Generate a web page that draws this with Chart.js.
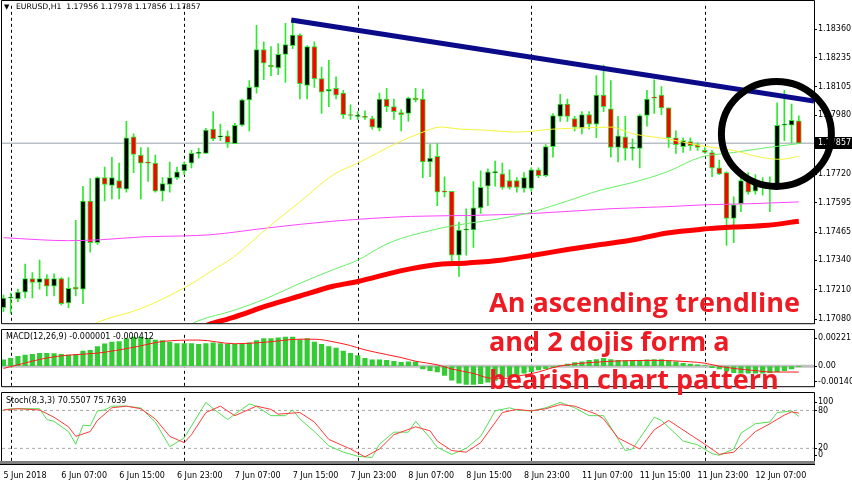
<!DOCTYPE html>
<html lang="en">
<head>
<meta charset="UTF-8">
<meta name="viewport" content="width=device-width, initial-scale=1.0">
<title>EURUSD H1</title>
<script src="https://cdn.jsdelivr.net/npm/chart.js"></script>
<style>
    body { margin: 0; width: 852px; height: 485px; position: relative; overflow: hidden; background: #fff; }
    canvas { position: absolute; left: 0; }
    #main { top: 0; }
    #macd { top: 329px; }
    #stoch { top: 392px; }
    .tag { position: absolute; left: 6px; font: 8px "DejaVu Sans", sans-serif; line-height: 10px; color: #000; white-space: pre; }
    #note { position: absolute; left: 489px; top: 283px; font: bold 27px/38.5px "Open Sans", sans-serif; color: #ed1c24; white-space: nowrap; }
</style>
</head>
<body>
<canvas id="main" width="852" height="329"></canvas>
<canvas id="macd" width="852" height="63"></canvas>
<canvas id="stoch" width="852" height="93"></canvas>
<div class="tag" style="top:2px;left:4px;font-size:7px">▼</div>
<div class="tag" style="top:2px;left:16px;font-size:7.7px">EURUSD,H1  1.17956 1.17978 1.17856 1.17857</div>
<div class="tag" style="top:332px">MACD(12,26,9) -0.000001 -0.000412</div>
<div class="tag" style="top:396px">Stoch(8,3,3) 70.5507 75.7639</div>
<div id="note">An ascending trendline<br>and 2 dojis form a<br>bearish chart pattern</div>
<script>
// hourly bars, 5 Jun 23:00 .. 12 Jun 13:00 (index 0..110)
const opens = [
    1.17132,1.17174,1.17170,1.17200,1.17260,1.17243,1.17260,1.17226,1.17260,1.17153,
    1.17222,1.17213,1.17602,1.17418,1.17705,1.17671,1.17692,1.17654,1.17885,1.17804,
    1.17774,1.17769,1.17645,1.17675,1.17705,1.17735,1.17769,1.17812,1.17812,1.17919,
    1.17885,1.17889,1.17855,1.17936,1.18048,1.18103,1.18270,1.18202,1.18189,1.18249,
    1.18287,1.18334,1.18112,1.18283,1.18142,1.18086,1.18099,1.18078,1.17983,1.17975,
    1.17975,1.17966,1.17923,1.18052,1.18018,1.17992,1.17988,1.18056,1.18052,1.17774,
    1.17799,1.17645,1.17645,1.17363,1.17474,1.17474,1.17572,1.17667,1.17727,1.17722,
    1.17692,1.17692,1.17658,1.17658,1.17739,1.17714,1.17842,1.17975,1.18030,1.17966,
    1.17923,1.17983,1.17941,1.18069,1.18009,1.17838,1.17885,1.17834,1.17834,1.17979,
    1.18060,1.18069,1.18013,1.17881,1.17842,1.17864,1.17851,1.17825,1.17816,1.17748,
    1.17727,1.17525,1.17590,1.17688,1.17645,1.17671,1.17662,1.17675,1.17936,1.17936,1.17956
];
const highs = [
    1.17187,1.17196,1.17213,1.17324,1.17286,1.17341,1.17277,1.17281,1.17264,1.17264,
    1.17517,1.17667,1.17701,1.17709,1.17752,1.17795,1.17769,1.17953,1.17898,1.17838,
    1.17838,1.17804,1.17705,1.17774,1.17752,1.17774,1.17825,1.17834,1.17923,1.17996,
    1.17941,1.17911,1.17945,1.18052,1.18133,1.18377,1.18304,1.18283,1.18296,1.18386,
    1.18403,1.18339,1.18287,1.18304,1.18193,1.18223,1.18150,1.18090,1.18026,1.17996,
    1.18000,1.17975,1.18078,1.18099,1.18052,1.18005,1.18060,1.18099,1.18095,1.17851,
    1.17855,1.17709,1.17645,1.17508,1.17568,1.17688,1.17735,1.17744,1.17778,1.17769,
    1.17739,1.17705,1.17727,1.17748,1.17748,1.17851,1.17988,1.18073,1.18052,1.17975,
    1.17996,1.17996,1.18155,1.18202,1.18133,1.17975,1.17975,1.17876,1.17983,1.18090,
    1.18137,1.18107,1.18013,1.17911,1.17881,1.17881,1.17859,1.17838,1.17825,1.17782,
    1.17731,1.17620,1.17727,1.17727,1.17718,1.17705,1.17709,1.18035,1.18090,1.18030,1.17978
];
const lows = [
    1.17114,1.17106,1.17157,1.17174,1.17174,1.17213,1.17183,1.17183,1.17144,1.17132,
    1.17183,1.17149,1.17376,1.17410,1.17602,1.17611,1.17611,1.17641,1.17727,1.17611,
    1.17688,1.17641,1.17602,1.17641,1.17697,1.17718,1.17748,1.17791,1.17812,1.17868,
    1.17868,1.17838,1.17855,1.17932,1.17911,1.18078,1.18137,1.18155,1.18159,1.18125,
    1.18274,1.18052,1.18052,1.18103,1.17988,1.18018,1.18052,1.17966,1.17962,1.17962,
    1.17962,1.17919,1.17911,1.17996,1.17962,1.17911,1.17953,1.18039,1.17705,1.17709,
    1.17581,1.17620,1.17324,1.17269,1.17363,1.17397,1.17547,1.17581,1.17667,1.17654,
    1.17654,1.17641,1.17641,1.17645,1.17705,1.17709,1.17795,1.17953,1.17953,1.17911,
    1.17898,1.17919,1.17881,1.17996,1.17795,1.17774,1.17782,1.17782,1.17748,1.17932,
    1.17988,1.17983,1.17838,1.17812,1.17816,1.17825,1.17825,1.17812,1.17709,1.17718,
    1.17406,1.17418,1.17555,1.17632,1.17632,1.17628,1.17555,1.17675,1.17868,1.17859,1.17856
];
const closes = [
    1.17174,1.17174,1.17200,1.17260,1.17243,1.17260,1.17226,1.17260,1.17149,1.17217,
    1.17213,1.17602,1.17418,1.17705,1.17675,1.17705,1.17658,1.17881,1.17808,1.17769,
    1.17769,1.17645,1.17679,1.17705,1.17731,1.17765,1.17812,1.17816,1.17915,1.17876,
    1.17885,1.17859,1.17936,1.18048,1.18103,1.18270,1.18210,1.18193,1.18249,1.18292,
    1.18334,1.18120,1.18283,1.18142,1.18082,1.18095,1.18069,1.17983,1.17979,1.17975,
    1.17971,1.17928,1.18052,1.18018,1.17996,1.17983,1.18056,1.18048,1.17774,1.17791,
    1.17641,1.17641,1.17363,1.17474,1.17478,1.17572,1.17662,1.17731,1.17727,1.17662,
    1.17662,1.17662,1.17705,1.17739,1.17714,1.17842,1.17979,1.18030,1.17975,1.17928,
    1.17983,1.17941,1.18069,1.18018,1.17838,1.17889,1.17834,1.17834,1.17979,1.18052,
    1.18056,1.18013,1.17881,1.17851,1.17868,1.17846,1.17838,1.17816,1.17748,1.17722,
    1.17525,1.17585,1.17692,1.17641,1.17684,1.17679,1.17679,1.17936,1.17936,1.17958,1.17857
];

// moving averages, read at bar positions
const yellowX = [12,13,19,25.4,28.6,31.8,36.5,41,45.6,49,54.5,57.7,60.4,63.2,66.4,71.1,76,78.8,84,87.1,91.8,96.4,101,104.7,107.5,110];
const yellowY = [1.17050,1.17067,1.17127,1.17226,1.17290,1.17354,1.17483,1.17598,1.17718,1.17769,1.17859,1.17902,1.17928,1.17919,1.17915,1.17906,1.17919,1.17923,1.17928,1.17898,1.17876,1.17846,1.17825,1.17795,1.17786,1.17799];
const greenX = [25.5,26.8,31.8,36.5,41,45.6,49,52.6,54.9,57.7,61.8,66.4,71.1,73.3,78,82.6,87.1,91.8,96.4,101,105.7,110];
const greenY = [1.17050,1.17072,1.17119,1.17174,1.17239,1.17299,1.17341,1.17406,1.17436,1.17461,1.17491,1.17513,1.17538,1.17555,1.17602,1.17650,1.17684,1.17731,1.17795,1.17816,1.17838,1.17855];
const magentaX = [0,9,13.4,19.4,25,28.6,36.5,45.6,56.3,64.2,73.3,84,91.8,96.8,103.3,110];
const magentaY = [1.17440,1.17427,1.17431,1.17444,1.17448,1.17453,1.17483,1.17513,1.17534,1.17538,1.17547,1.17568,1.17577,1.17585,1.17590,1.17598];
const redX = [27,29,31.8,36.5,41,45.6,49,54.9,59.5,64.2,68.7,73.3,78,82.6,87.1,91.8,96.8,101,105.7,110];
const redY = [1.17042,1.17063,1.17089,1.17140,1.17183,1.17226,1.17247,1.17294,1.17320,1.17329,1.17341,1.17363,1.17388,1.17410,1.17431,1.17461,1.17478,1.17487,1.17495,1.17513];
const trendX = [39.8, 112.1];
const trendY = [1.18400, 1.18043];
const circleAt = [106.9, 1.17898];

const macdHist = [
    0.00045,0.00055,0.00070,0.00078,0.00084,0.00090,0.00090,0.00088,0.00084,0.00078,
    0.00082,0.00107,0.00111,0.00138,0.00158,0.00170,0.00174,0.00195,0.00205,0.00205,
    0.00195,0.00184,0.00180,0.00170,0.00160,0.00160,0.00160,0.00154,0.00160,0.00164,
    0.00160,0.00154,0.00154,0.00160,0.00164,0.00180,0.00195,0.00195,0.00199,0.00205,
    0.00205,0.00188,0.00195,0.00170,0.00154,0.00138,0.00127,0.00107,0.00090,0.00074,
    0.00055,0.00045,0.00045,0.00041,0.00035,0.00027,0.00031,0.00031,-0.00020,-0.00031,
    -0.00041,-0.00065,-0.00098,-0.00119,-0.00129,-0.00129,-0.00123,-0.00112,-0.00100,-0.00088,
    -0.00075,-0.00062,-0.00050,-0.00038,-0.00027,-0.00017,-0.00008,0.00005,0.00015,0.00025,
    0.00031,0.00041,0.00047,0.00055,0.00047,0.00041,0.00038,0.00041,0.00041,0.00045,
    0.00047,0.00047,0.00038,0.00031,0.00020,0.00015,0.00010,0.00005,-0.00010,-0.00020,
    -0.00035,-0.00045,-0.00050,-0.00050,-0.00050,-0.00050,-0.00045,-0.00041,-0.00031,-0.00020,-0.000001
];
const signalX = [0,2,6,9,13,18,22,27,32,36,41,43,46,48,50,53,55,57,60,62,65,67,69,71,74,76,78,81,85,90,95,97,99,101,104,106,110];
const signalY = [-0.00016,0.0001,0.00058,0.00078,0.00092,0.00133,0.00174,0.00184,0.00158,0.00168,0.0019,0.0019,0.00168,0.00145,0.00115,0.00082,0.00061,0.00035,0.0001,-0.0002,-0.00051,-0.00082,-0.00088,-0.00071,-0.00041,-0.0001,0.0001,0.00025,0.00037,0.00041,0.00031,0.00021,0,-0.00016,-0.00031,-0.00041,-0.000412];

const stochKX = [0,1,2,5,6,7,9,10,11,12,13,14,15,17,19,21,23,25,28,29,31,34,35,37,39,40,41,43,45,47,49,51,52,54,56,57,59,60,62,64,66,68,70,71,73,75,77,79,81,83,86,87,90,91,94,96,98,99,101,102,104,106,107,109,110];
const stochKY = [80.7,82.7,82.7,82.7,65.7,62.7,46.6,26.6,56.7,55.6,79.2,80.7,86.8,86.8,83.8,61.7,22.6,36.6,92.8,82.7,65.7,90.2,86.8,71.7,71.7,80.7,66.6,46.6,24.1,14,7.5,5.6,26.6,45.6,45.6,62.7,36.6,21.6,10.5,20,39,79.2,84.2,80.7,79.2,84.2,92.8,84.2,71.7,71.7,16.5,19,69.2,64.2,31.6,25.6,11.6,9,19,44,59,61.7,76.7,79.2,70.55];
const stochDX = [0,2,5,7,9,10,12,13,15,17,19,21,23,25,26,28,30,32,35,37,38,41,43,45,48,50,52,54,57,59,60,62,64,66,69,71,73,75,77,79,82,83,85,88,90,92,95,97,99,101,104,106,108,109,110];
const stochDY = [80.7,82.7,80.7,69.2,54.1,39,46.6,64.2,84.2,86.8,82.7,66.6,39,29,41.6,76.7,86.8,71.7,86.8,81.7,74.1,76.7,61.7,34.1,19,6.5,19,41.6,54.1,47.7,31.6,16.5,14,29,76.7,81.7,79.2,82.7,89.2,86.8,74.1,66.6,36.6,19,49.2,64.2,41.6,26.6,10.5,14,46.6,59,72.6,77.7,75.76];

const priceTicks = [1.18360,1.18235,1.18105,1.17980,1.17720,1.17595,1.17465,1.17340,1.17210,1.17080];
const macdTickVals = [0.00196, 0, -0.00110];
const macdTickLabels = ['0.002211', '0.00', '-0.001409'];
const stochTickVals = [93, 80, 20, 9];
const stochTickLabels = ['100', '80', '20', '0'];
const stochLevels = [80, 20];
const timeTickIdx = [0,8,16,24,32,40,48,56,64,72,80,88,96,104];
const timeLabels = ['5 Jun 2018','6 Jun 07:00','6 Jun 15:00','6 Jun 23:00','7 Jun 07:00','7 Jun 15:00','7 Jun 23:00',
    '8 Jun 07:00','8 Jun 15:00','8 Jun 23:00','11 Jun 07:00','11 Jun 15:00','11 Jun 23:00','12 Jun 07:00'];
const separators = [1, 25, 49, 73, 97];

const xMin = -0.2, xMax = 112.1;
const small = { family: 'DejaVu Sans', size: 8 };
const candleGreen = '#2ee82e';

function pts(xs, ys) { return xs.map((x, i) => ({ x: x, y: ys[i] })); }
function flat(v) { return [{ x: xMin, y: v }, { x: xMax, y: v }]; }
function line(data, color, width, order, extra) {
    return Object.assign({ type: 'line', data: data, borderColor: color, borderWidth: width,
        pointRadius: 0, fill: false, order: order }, extra || {});
}

// day separators + window frame
const frame = {
    id: 'frame',
    beforeDatasetsDraw(chart) {
        const { ctx, chartArea: a, scales } = chart;
        ctx.save();
        ctx.strokeStyle = '#000';
        ctx.lineWidth = 1;
        ctx.setLineDash([3, 3]);
        ctx.beginPath();
        separators.forEach(s => {
            const px = Math.round(scales.x.getPixelForValue(s)) + 0.5;
            ctx.moveTo(px, a.top);
            ctx.lineTo(px, a.bottom);
        });
        ctx.stroke();
        ctx.restore();
    },
    afterDraw(chart, args, opts) {
        const { ctx, chartArea: a } = chart;
        const l = a.left - 0.5, r = a.right + 0.5, t = 0.5, b = a.bottom + 0.5;
        ctx.save();
        ctx.strokeStyle = '#000';
        ctx.lineWidth = 1;
        ctx.beginPath();
        ctx.moveTo(l, b); ctx.lineTo(l, t); ctx.lineTo(r, t); ctx.lineTo(r, b);
        if (!opts.gray) ctx.lineTo(l, b);
        ctx.stroke();
        if (opts.gray) {
            ctx.fillStyle = '#808080';
            ctx.fillRect(0, a.bottom, r + 0.5, 3);
            ctx.fillStyle = '#000';
            ctx.fillRect(0, a.bottom + 3, r + 0.5, 1);
        }
        ctx.restore();
    }
};

// bid price box and the circle
const marks = {
    id: 'marks',
    afterDraw(chart) {
        const { ctx, scales: { x, y } } = chart;
        const last = closes[closes.length - 1];
        const py = Math.round(y.getPixelForValue(last));
        ctx.save();
        ctx.fillStyle = '#000';
        ctx.fillRect(y.left + 1, py - 6, y.right - y.left - 1, 12);
        ctx.fillStyle = '#fff';
        ctx.font = '8px "DejaVu Sans"';
        ctx.textBaseline = 'middle';
        ctx.fillText(last.toFixed(5), y.left + 4, py);
        ctx.beginPath();
        ctx.ellipse(x.getPixelForValue(circleAt[0]), y.getPixelForValue(circleAt[1]), 55, 52.5, 0, 0, Math.PI * 2);
        ctx.lineWidth = 7;
        ctx.strokeStyle = '#000';
        ctx.stroke();
        ctx.restore();
    }
};

function rightAxis(min, max, vals, label) {
    return {
        position: 'right', min: min, max: max,
        afterFit: s => { s.width = 38; },
        afterBuildTicks: s => { s.ticks = vals.map(v => ({ value: v })); },
        ticks: { autoSkip: false, padding: 1, color: '#000', font: small, callback: label },
        grid: { drawOnChartArea: false, tickLength: 3, tickColor: '#000' },
        border: { color: '#000' }
    };
}
const hiddenX = { type: 'linear', min: xMin, max: xMax, offset: false, display: false };
const common = { responsive: false, animation: false, events: [] };

const idx = closes.map((c, i) => i);
const last = closes[closes.length - 1];

new Chart(document.getElementById('main'), {
    type: 'bar',
    data: {
        datasets: [
            line(pts(trendX, trendY), '#0b0b8a', 5, 0),
            line(pts(redX, redY), '#ff0000', 5, 1, { cubicInterpolationMode: 'monotone' }),
            line(pts(yellowX, yellowY), '#f4f43a', 1, 2, { cubicInterpolationMode: 'monotone' }),
            line(pts(greenX, greenY), '#66ee66', 1, 3, { cubicInterpolationMode: 'monotone' }),
            line(pts(magentaX, magentaY), '#ff44ff', 1, 4, { cubicInterpolationMode: 'monotone' }),
            {
                type: 'bar', order: 5, grouped: false,
                data: idx.map(i => ({ x: i, y: [opens[i], closes[i]] })),
                backgroundColor: idx.map(i => closes[i] >= opens[i] ? '#000000' : '#ff0000'),
                borderColor: candleGreen, borderWidth: 1, borderSkipped: false,
                barThickness: 5, minBarLength: 1
            },
            {
                type: 'bar', order: 6, grouped: false,
                data: idx.map(i => ({ x: i, y: [lows[i], highs[i]] })),
                backgroundColor: candleGreen, barThickness: 1
            },
            line(flat(last), '#b8bec6', 1.5, 7)
        ]
    },
    options: Object.assign({}, common, {
        layout: { padding: { left: 2, top: 1, bottom: 1, right: 0 } },
        plugins: { legend: { display: false }, tooltip: { enabled: false }, frame: { gray: false } },
        scales: {
            x: hiddenX,
            y: rightAxis(1.17063, 1.18463, priceTicks, v => v.toFixed(5))
        }
    }),
    plugins: [frame, marks]
});

new Chart(document.getElementById('macd'), {
    type: 'bar',
    data: {
        datasets: [
            line(pts(signalX, signalY), '#ff1a1a', 1, 0, { cubicInterpolationMode: 'monotone' }),
            {
                type: 'bar', order: 1, grouped: false,
                data: idx.map(i => ({ x: i, y: macdHist[i] })),
                backgroundColor: '#33cc33', barThickness: 4.5
            },
            line(flat(0), '#c0c0c0', 3, 2)
        ]
    },
    options: Object.assign({}, common, {
        layout: { padding: { left: 2, top: 2, bottom: 2, right: 0 } },
        plugins: { legend: { display: false }, tooltip: { enabled: false }, frame: { gray: false } },
        scales: {
            x: hiddenX,
            y: rightAxis(-0.001409, 0.002211, macdTickVals, (v, i) => macdTickLabels[i])
        }
    }),
    plugins: [frame]
});

new Chart(document.getElementById('stoch'), {
    type: 'line',
    data: {
        datasets: [
            line(pts(stochDX, stochDY), '#ff3b3b', 1, 0),
            line(pts(stochKX, stochKY), '#55dd55', 1, 1),
            line(flat(stochLevels[0]), '#a8a8a8', 1, 2, { borderDash: [3, 3] }),
            line(flat(stochLevels[1]), '#a8a8a8', 1, 3, { borderDash: [3, 3] })
        ]
    },
    options: Object.assign({}, common, {
        layout: { padding: { left: 2, top: 2.5, bottom: 0, right: 0 } },
        plugins: { legend: { display: false }, tooltip: { enabled: false }, frame: { gray: true } },
        scales: {
            x: {
                type: 'linear', min: xMin, max: xMax, offset: false,
                afterFit: s => { s.height = 24; },
                afterBuildTicks: s => { s.ticks = timeTickIdx.map(v => ({ value: v })); },
                ticks: { autoSkip: false, maxRotation: 0, align: 'start', padding: 0, color: '#000',
                    font: { family: 'DejaVu Sans', size: 8, lineHeight: 3.75 },
                    callback: (v, i) => timeLabels[i] },
                grid: { display: false, drawTicks: false },
                border: { display: false }
            },
            y: rightAxis(0, 100, stochTickVals, (v, i) => stochTickLabels[i])
        }
    }),
    plugins: [frame]
});
</script>
</body>
</html>
